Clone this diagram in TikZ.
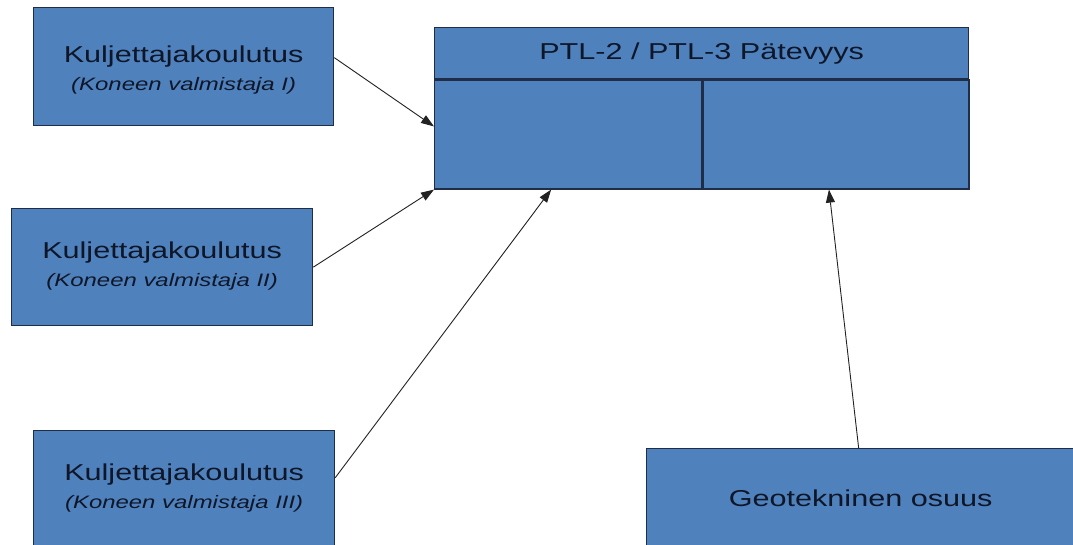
\documentclass[tikz,border=0pt]{standalone}
\usepackage{fontspec}
\newfontfamily\boxfont[FakeStretch=1.33]{Liberation Sans}
\usetikzlibrary{arrows.meta}
\definecolor{boxblue}{HTML}{4F81BD}
\definecolor{boxline}{HTML}{1F2D47}
\definecolor{boxtext}{HTML}{0E1628}
\definecolor{arrowgray}{HTML}{222222}
\newcommand\valm[1]{{\fontsize{18}{21}\selectfont\itshape #1}}

\begin{document}
\begin{tikzpicture}[x=1pt, y=-1pt,
  box/.style={draw=boxline, fill=boxblue, line width=1.3pt, inner sep=0pt,
    anchor=north west},
  txt/.style={text=boxtext, align=center, inner sep=0pt,
    font=\boxfont\fontsize{23}{27}\selectfont},
  arr/.style={draw=arrowgray, line width=0.9pt,
    -{Triangle[length=13pt, width=9pt]}}]

\useasboundingbox (0,0) rectangle (1073,544);
\clip (0,0) rectangle (1073,544);
\fill [white] (0,0) rectangle (1073,544);

\begin{scope}[every node/.append style={box}]
  \node [minimum width=300pt, minimum height=118pt] (kou1) at (33,7) {};
  \node [minimum width=301pt, minimum height=117pt] (kou2) at (11,208) {};
  \node [minimum width=301pt, minimum height=118pt] (kou3) at (33,430) {};
  \node [minimum width=428pt, minimum height=118pt] (geo) at (646,448) {};

  \node [minimum width=534pt, minimum height=51pt] (ptl) at (434,27) {};
  \node [minimum width=267pt, minimum height=109pt] (ptla) at
  (ptl.south west) {}; \node [minimum width=266pt, minimum
  height=109pt] (ptlb) at (ptla.north east) {};
\end{scope}

\begin{scope}[every node/.append style={txt}]
  \node (ptlt) at (ptl.center) {PTL-2 / PTL-3 P\"atevyys};
  \node (kou1t) at ([yshift=-3pt]kou1.center)
  {Kuljettajakoulutus\\[1pt]\valm{(Koneen valmistaja I)}};
  \node (kou2t) at ([yshift=1pt]kou2.center)
  {Kuljettajakoulutus\\[1pt]\valm{(Koneen valmistaja II)}};
  \node (kou3t) at ([yshift=2pt]kou3.center)
  {Kuljettajakoulutus\\[1pt]\valm{(Koneen valmistaja III)}};
  \node (geot) at ([yshift=-50pt]geo.north) {Geotekninen osuus};
\end{scope}

\begin{scope}[arr]
  \draw ([yshift=9pt]kou1.east) -- ([yshift=8pt]ptla.west); \draw
  (kou2.east) -- (ptla.south west); \draw ([yshift=12pt]kou3.east) --
  ([xshift=-17pt]ptla.south); \draw ([xshift=-2pt]geo.north) --
  ([xshift=-7pt]ptlb.south);
\end{scope}
\end{tikzpicture}
\end{document}
